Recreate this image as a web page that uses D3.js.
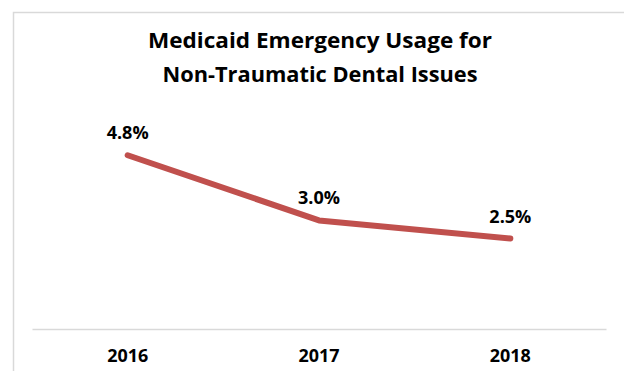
<!DOCTYPE html>
<html><head><meta charset="utf-8">
<script src="https://cdn.jsdelivr.net/npm/d3@7"></script>
<style>html,body{margin:0;padding:0;background:#fff;}svg{display:block;}</style>
</head><body>
<svg id="c" width="624" height="371"></svg>
<script>
const years = ["2016", "2017", "2018"];
const usage = [4.8, 3.0, 2.5];
const valueLabels = ["4.8%", "3.0%", "2.5%"];
const titleLines = ["Medicaid Emergency Usage for", "Non-Traumatic Dental Issues"];

const svg = d3.select("#c");
const font = "'Open Sans', Lato, sans-serif";

// outer chart frame
svg.append("rect").attr("x", 13.5).attr("y", 12.5).attr("width", 700).attr("height", 500)
  .attr("fill", "#fff").attr("stroke", "#d9d9d9").attr("stroke-width", 1.5);

const x = d3.scaleBand().domain(years).range([32, 606]);
const y = d3.scaleLinear().domain([0, 5]).range([329, 148]);

// title
const tl = [{t: titleLines[0], y: 48, w: 344}, {t: titleLines[1], y: 82, w: 315}];
svg.selectAll("text.title").data(tl).enter().append("text")
  .attr("class", "title").attr("x", 320).attr("y", d => d.y)
  .attr("text-anchor", "middle").attr("font-family", font).attr("font-weight", "bold")
  .attr("font-size", 21).attr("fill", "#000")
  .attr("textLength", d => d.w).attr("lengthAdjust", "spacingAndGlyphs")
  .text(d => d.t);

// x axis
const xAxis = svg.append("g").attr("transform", `translate(0,${y(0)})`)
  .call(d3.axisBottom(x).tickSize(0).tickPadding(0));
xAxis.select(".domain").attr("stroke", "#d9d9d9").attr("stroke-width", 1.5);
xAxis.selectAll(".tick text").attr("y", 33).attr("dy", 0)
  .attr("font-family", font).attr("font-weight", "bold").attr("font-size", 17.5)
  .attr("fill", "#000").attr("textLength", 41).attr("lengthAdjust", "spacingAndGlyphs");

const cx = d => x(d) + x.bandwidth() / 2;

// line
const line = d3.line().x((d, i) => cx(years[i])).y(d => y(d));
svg.append("path").datum(usage).attr("d", line)
  .attr("fill", "none").attr("stroke", "#c0504d").attr("stroke-width", 6)
  .attr("stroke-linecap", "round").attr("stroke-linejoin", "round");

// value labels
svg.selectAll("text.val").data(usage).enter().append("text")
  .attr("class", "val").attr("x", (d, i) => cx(years[i]))
  .attr("y", d => y(d) - 16)
  .attr("text-anchor", "middle").attr("font-family", font).attr("font-weight", "bold")
  .attr("font-size", 17).attr("fill", "#000")
  .attr("textLength", 42).attr("lengthAdjust", "spacingAndGlyphs")
  .text((d, i) => valueLabels[i]);
</script>
</body></html>
